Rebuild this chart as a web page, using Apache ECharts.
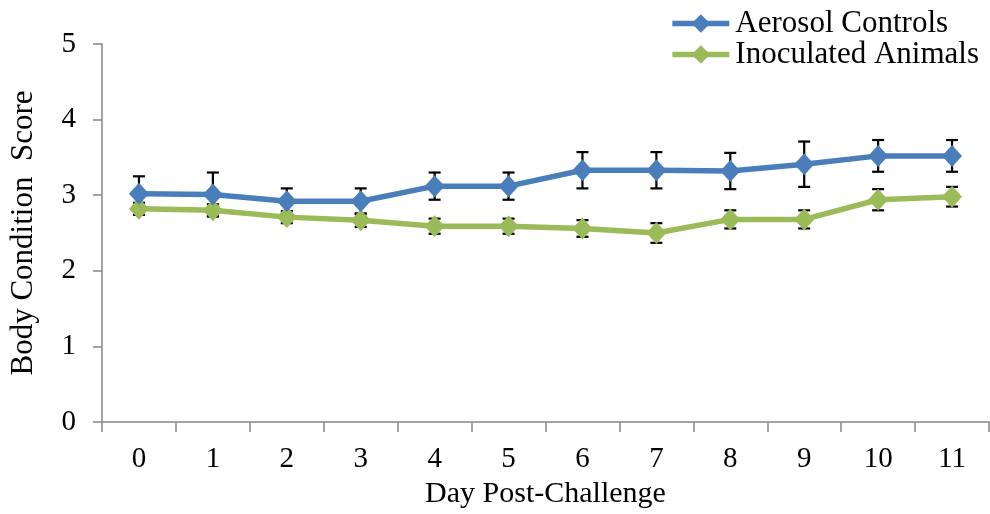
<!DOCTYPE html>
<html><head><meta charset="utf-8">
<script src="https://cdn.jsdelivr.net/npm/echarts@6/dist/echarts.min.js"></script>
<style>html,body{margin:0;padding:0;background:#fff}#c{width:990px;height:514px}</style>
</head><body><div id="c"></div>
<script>
var days = ['0','1','2','3','4','5','6','7','8','9','10','11'];
var aerosol = [3.02, 3.01, 2.92, 2.92, 3.12, 3.12, 3.33, 3.33, 3.32, 3.41, 3.52, 3.52];
var aerosolErr = [0.23, 0.29, 0.17, 0.17, 0.18, 0.18, 0.24, 0.24, 0.24, 0.30, 0.21, 0.21];
var inoculated = [2.82, 2.80, 2.71, 2.67, 2.59, 2.59, 2.56, 2.50, 2.68, 2.68, 2.94, 2.98];
var inoculatedErr = [0.08, 0.08, 0.08, 0.09, 0.10, 0.10, 0.11, 0.13, 0.12, 0.12, 0.14, 0.13];
var yTicks = [0, 1, 2, 3, 4, 5];

var FONT = 'Liberation Serif';
function errData(vals, errs) {
  return vals.map(function (v, i) { return [i, v - errs[i], v + errs[i]]; });
}
function renderErr(params, api) {
  var x = api.value(0);
  var lo = api.coord([x, api.value(1)]);
  var hi = api.coord([x, api.value(2)]);
  var w = 6;
  var st = { stroke: '#000', lineWidth: 2.2 };
  return { type: 'group', children: [
    { type: 'line', shape: { x1: hi[0], y1: hi[1], x2: lo[0], y2: lo[1] }, style: st },
    { type: 'line', shape: { x1: hi[0] - w, y1: hi[1], x2: hi[0] + w, y2: hi[1] }, style: st },
    { type: 'line', shape: { x1: lo[0] - w, y1: lo[1], x2: lo[0] + w, y2: lo[1] }, style: st }
  ]};
}
var chart = echarts.init(document.getElementById('c'));
chart.setOption({
  animation: false,
  backgroundColor: '#fff',
  textStyle: { fontFamily: FONT },
  grid: { left: 102, right: 1, top: 44, bottom: 92, containLabel: false, outerBoundsMode: 'none' },
  legend: {
    orient: 'vertical', right: 6, top: 3, itemGap: 0,
    itemWidth: 57, itemHeight: 23,
    lineStyle: { width: 5.5 },
    textStyle: { fontFamily: FONT, fontSize: 31, color: '#000', padding: [0, 0, 0, 1] },
    data: ['Aerosol Controls', 'Inoculated Animals']
  },
  xAxis: {
    type: 'category', data: days, boundaryGap: true,
    name: 'Day Post-Challenge', nameLocation: 'middle', nameGap: 56,
    nameTextStyle: { fontFamily: FONT, fontSize: 30, color: '#000' },
    axisLine: { lineStyle: { color: '#868686', width: 1.5 } },
    axisTick: { show: true, inside: false, length: 10, lineStyle: { color: '#868686', width: 1.5 } },
    axisLabel: { fontFamily: FONT, fontSize: 29, color: '#000', margin: 23 },
    splitLine: { show: false }
  },
  yAxis: {
    type: 'value', min: 0, max: 5, interval: 1,
    name: 'Body Condition  Score', nameLocation: 'middle', nameGap: 63, nameRotate: 90,
    nameTextStyle: { fontFamily: FONT, fontSize: 31, color: '#000' },
    axisLine: { show: true, lineStyle: { color: '#868686', width: 1.5 } },
    axisTick: { show: true, inside: false, length: 9, lineStyle: { color: '#868686', width: 1.5 } },
    axisLabel: { fontFamily: FONT, fontSize: 29, color: '#000', margin: 26, padding: [0, 0, 6, 0],
      formatter: function (v) { return yTicks.indexOf(v) >= 0 ? String(v) : ''; } },
    splitLine: { show: false }
  },
  series: [
    { type: 'custom', name: 'errA', data: errData(aerosol, aerosolErr), renderItem: renderErr, z: 1, silent: true },
    { type: 'custom', name: 'errI', data: errData(inoculated, inoculatedErr), renderItem: renderErr, z: 1, silent: true },
    { type: 'line', name: 'Aerosol Controls', data: aerosol, z: 3,
      symbol: 'diamond', symbolSize: [20, 22], color: '#4A7EBB',
      lineStyle: { width: 5.5, color: '#4A7EBB' }, itemStyle: { color: '#4A7EBB' } },
    { type: 'line', name: 'Inoculated Animals', data: inoculated, z: 2,
      symbol: 'diamond', symbolSize: [20, 22], color: '#9BBB59',
      lineStyle: { width: 5.5, color: '#9BBB59' }, itemStyle: { color: '#9BBB59' } }
  ]
});
</script></body></html>
